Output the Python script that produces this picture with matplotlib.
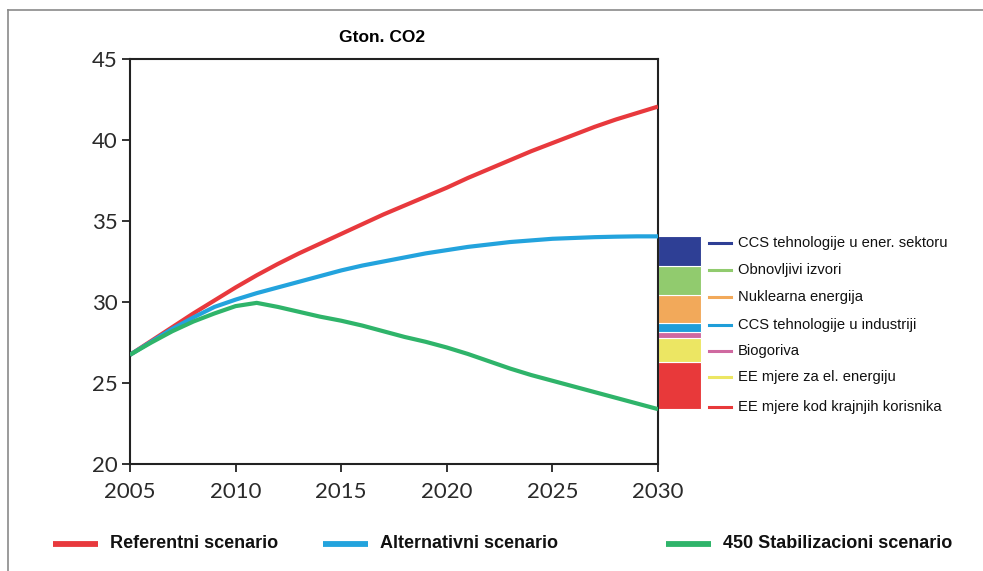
import matplotlib.pyplot as plt
from matplotlib.lines import Line2D
import numpy as np

W, H = 983, 571

years = np.arange(2005, 2031)

# emisije CO2 po scenarijima (Gt)
referentni = [26.75, 27.6, 28.45, 29.3, 30.1, 30.9, 31.65, 32.35, 33.0, 33.6,
              34.2, 34.8, 35.4, 35.95, 36.5, 37.05, 37.65, 38.2, 38.75, 39.3,
              39.8, 40.3, 40.8, 41.25, 41.65, 42.05]
alternativni = [26.75, 27.55, 28.35, 29.05, 29.7, 30.15, 30.55, 30.9, 31.25, 31.6,
                31.95, 32.25, 32.5, 32.75, 33.0, 33.2, 33.4, 33.55, 33.7, 33.8,
                33.9, 33.95, 34.0, 34.03, 34.05, 34.05]
stabilizacioni = [26.75, 27.5, 28.2, 28.8, 29.3, 29.75, 29.95, 29.7, 29.4, 29.1,
                  28.85, 28.55, 28.2, 27.85, 27.55, 27.2, 26.8, 26.35, 25.9, 25.5,
                  25.15, 24.8, 24.45, 24.1, 23.75, 23.4]

scenariji = ['Referentni scenario', 'Alternativni scenario', '450 Stabilizacioni scenario']
boje_scen = ['#e8393d', '#23a3dd', '#2fb46a']

# doprinosi smanjenju emisija u 2030. (odozdo prema gore)
mjere = ['EE mjere kod krajnjih korisnika', 'EE mjere za el. energiju', 'Biogoriva',
         'CCS tehnologije u industriji', 'Nuklearna energija', 'Obnovljivi izvori',
         'CCS tehnologije u ener. sektoru']
doprinos = [2.93, 1.48, 0.33, 0.55, 1.75, 1.80, 1.81]
boje_mjere = ['#e8393a', '#ece663', '#cf69a0', '#1f9ed9', '#f2a95a', '#91cb6e', '#2e3f95']


def fx(x):
    return x / W


def fy(y):
    return 1 - y / H


fig = plt.figure(figsize=(W / 100, H / 100), dpi=100)
ax = fig.add_axes([fx(130), fy(464.3), (658 - 130) / W, (464.3 - 58.7) / H])

for vals, c in zip([referentni, alternativni, stabilizacioni], boje_scen):
    ax.plot(years, vals, color=c, lw=3, solid_capstyle='butt',
            solid_joinstyle='round', zorder=3)

# stubac s doprinosima desno od osi
dno = stabilizacioni[-1]
for h, c in zip(doprinos, boje_mjere):
    ax.bar(2030, h, width=2.05, bottom=dno, align='edge', color=c,
           edgecolor='white', linewidth=0.8, clip_on=False, zorder=2)
    dno += h

ax.set_xlim(2005, 2030)
ax.set_ylim(20, 45)
ax.set_xticks(range(2005, 2031, 5))
ax.set_yticks(range(20, 46, 5))
for s in ax.spines.values():
    s.set_color('#222222')
    s.set_linewidth(1.5)
ax.tick_params(direction='out', length=6, width=1.3, color='#222222',
               labelsize=16, labelcolor='#2a2a2a')
ax.tick_params(axis='x', pad=7)
ax.tick_params(axis='y', pad=3)
for lab in ax.get_xticklabels() + ax.get_yticklabels():
    lab.set_family('Lato')
    lab.set_fontweight('normal')

fig.text(fx(382), fy(37), 'Gton. CO2', ha='center', va='center',
         fontsize=12.5, fontweight='bold', family='Liberation Sans')

# legenda mjera desno
legend_y = [243, 270, 297, 325, 351, 377, 407]
for y, lab, c in zip(legend_y, mjere[::-1], boje_mjere[::-1]):
    fig.add_artist(Line2D([fx(709), fx(731)], [fy(y), fy(y)], color=c, lw=2.2))
    fig.text(fx(738), fy(y), lab, ha='left', va='center', fontsize=10.6,
             family='Liberation Sans', color='#111111')

# legenda scenarija ispod grafa
handle_x = [53, 323, 666]
for x0, lab, c in zip(handle_x, scenariji, boje_scen):
    fig.add_artist(Line2D([fx(x0), fx(x0 + 45)], [fy(544), fy(544)], color=c, lw=4.2,
                          solid_capstyle='butt'))
    fig.text(fx(x0 + 57), fy(543.5), lab, ha='left', va='center', fontsize=13,
             fontweight='bold', family='Liberation Sans', color='#111111')

# okvir slike (gore i lijevo)
fig.add_artist(Line2D([fx(8), 1], [fy(10), fy(10)], color='#8a8a8a', lw=1.2))
fig.add_artist(Line2D([fx(8), fx(8)], [fy(10), 0], color='#8a8a8a', lw=1.2))

fig.savefig('out.png', dpi=100)
